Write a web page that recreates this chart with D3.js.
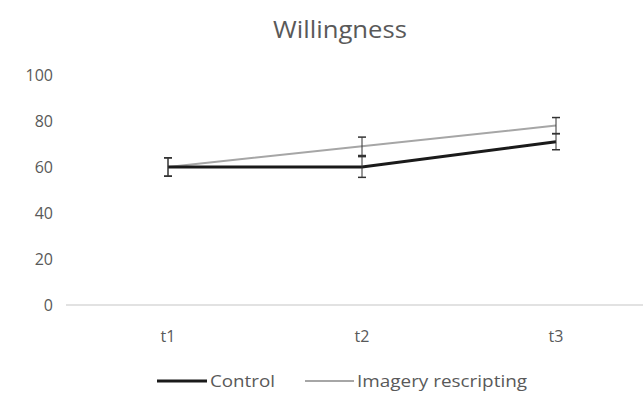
<!DOCTYPE html>
<html>
<head>
<meta charset="utf-8">
<script src="https://cdn.jsdelivr.net/npm/d3@7"></script>
<style>
  body { margin: 0; background: #fff; }
  text { font-family: "Open Sans", Lato, sans-serif; fill: #595959; }
</style>
</head>
<body>
<div id="viz"></div>
<script>
var timepoints = ["t1", "t2", "t3"];
var controlMeans = [60, 60, 71];
var controlErr = [4, 4.5, 3.5];
var imageryMeans = [60, 69, 78];
var imageryErr = [4, 4, 3.5];
var yTicks = [0, 20, 40, 60, 80, 100];

var width = 643, height = 395;
var svg = d3.select("#viz").append("svg").attr("width", width).attr("height", height);

var x = d3.scalePoint()
    .domain(timepoints)
    .range([168, 556]);

var y = d3.scaleLinear()
    .domain([0, 100])
    .range([305, 75]);

// title
svg.append("text")
    .attr("x", 340)
    .attr("y", 38)
    .attr("text-anchor", "middle")
    .attr("font-size", "23px")
    .attr("textLength", 134)
    .attr("lengthAdjust", "spacingAndGlyphs")
    .text("Willingness");

// y tick labels
svg.selectAll(".ylab")
    .data(yTicks)
    .enter()
    .append("text")
    .attr("class", "ylab")
    .attr("x", 53)
    .attr("y", function (d) { return y(d) + 5.5 })
    .attr("text-anchor", "end")
    .attr("font-size", "16px")
    .text(function (d) { return d });

// baseline
svg.append("line")
    .attr("x1", 66).attr("x2", 643)
    .attr("y1", y(0)).attr("y2", y(0))
    .attr("stroke", "#d9d9d9")
    .attr("stroke-width", 1.5);

// x labels
svg.selectAll(".xlab")
    .data(timepoints)
    .enter()
    .append("text")
    .attr("class", "xlab")
    .attr("x", function (d) { return x(d) })
    .attr("y", 342)
    .attr("text-anchor", "middle")
    .attr("font-size", "16px")
    .text(function (d) { return d });

var series = [
    {name: "Control", means: controlMeans, err: controlErr, color: "#1a1a1a", w: 3, lx: 157, len: 50, tw: 65},
    {name: "Imagery rescripting", means: imageryMeans, err: imageryErr, color: "#a6a6a6", w: 2, lx: 305, len: 49, tw: 170}
];

var line = d3.line()
    .x(function (d, i) { return x(timepoints[i]) })
    .y(function (d) { return y(d) });

// imagery drawn first so control sits on top
series.slice().reverse().forEach(function (s) {
    svg.append("path")
        .datum(s.means)
        .attr("d", line)
        .attr("fill", "none")
        .attr("stroke", s.color)
        .attr("stroke-width", s.w);
});

series.forEach(function (s) {
    var g = svg.append("g");
    s.means.forEach(function (m, i) {
        var cx = x(timepoints[i]);
        var top = y(m + s.err[i]), bot = y(m - s.err[i]);
        g.append("line").attr("x1", cx).attr("x2", cx).attr("y1", top).attr("y2", bot)
            .attr("stroke", "#333").attr("stroke-width", 1);
        [top, bot].forEach(function (yy) {
            g.append("line").attr("x1", cx - 4).attr("x2", cx + 4).attr("y1", yy).attr("y2", yy)
                .attr("stroke", "#333").attr("stroke-width", 1.5);
        });
    });
});

// legend
series.forEach(function (s) {
    svg.append("line")
        .attr("x1", s.lx).attr("x2", s.lx + s.len)
        .attr("y1", 381).attr("y2", 381)
        .attr("stroke", s.color)
        .attr("stroke-width", s.w);
    svg.append("text")
        .attr("x", s.lx + s.len + 3)
        .attr("y", 387)
        .attr("font-size", "16px")
        .attr("textLength", s.tw)
        .attr("lengthAdjust", "spacingAndGlyphs")
        .text(s.name);
});
</script>
</body>
</html>
